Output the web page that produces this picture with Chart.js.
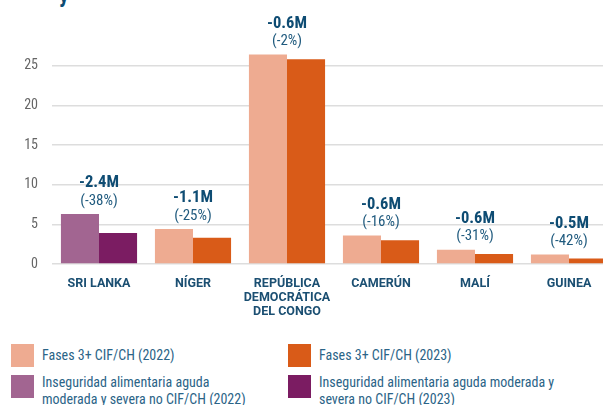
<!DOCTYPE html>
<html>
<head>
<meta charset="utf-8">
<script src="https://cdn.jsdelivr.net/npm/chart.js@4"></script>
<style>
  html, body { margin: 0; padding: 0; background: #fff; width: 603px; height: 405px; overflow: hidden; }
  body { position: relative; font-family: "Roboto Condensed", "Roboto", sans-serif; }
  #wrap { position: absolute; left: 0; top: 0; width: 616px; height: 320px; }
  #title { position: absolute; left: 59px; top: -18px; font: bold 22px "Roboto Condensed", "Roboto", sans-serif; color: #0e4c73; }
  .lg { position: absolute; display: flex; align-items: flex-start; }
  .lg .box { width: 23px; height: 23px; flex: none; }
  .lg .txt { margin-left: 8px; font-size: 14px; line-height: 17px; color: #2b6487; }
</style>
</head>
<body>
<div id="title">y</div>
<div id="wrap"><canvas id="myChart" width="616" height="320"></canvas></div>
<div id="legend"></div>
<script>
// values in millions of people
const countries = ['SRI LANKA', 'NÍGER', ['REPÚBLICA', 'DEMOCRÁTICA', 'DEL CONGO'], 'CAMERÚN', 'MALÍ', 'GUINEA'];
const values2022 = [6.3, 4.4, 26.4, 3.6, 1.8, 1.2];
const values2023 = [3.9, 3.3, 25.8, 3.0, 1.25, 0.7];
const changeLabels = ['-2.4M', '-1.1M', '-0.6M', '-0.6M', '-0.6M', '-0.5M'];
const pctLabels = ['(-38%)', '(-25%)', '(-2%)', '(-16%)', '(-31%)', '(-42%)'];
// true where the figure is "inseguridad alimentaria ... no CIF/CH"
const nonCIF = [true, false, false, false, false, false];
const legendLabels = [
    'Fases 3+ CIF/CH (2022)',
    'Fases 3+ CIF/CH (2023)',
    'Inseguridad alimentaria aguda moderada y severa no CIF/CH (2022)',
    'Inseguridad alimentaria aguda moderada y severa no CIF/CH (2023)'
];
const yTicks = [0, 5, 10, 15, 20, 25];

const colors = {
    cif2022: '#eeab91',
    cif2023: '#d95b18',
    non2022: '#a26591',
    non2023: '#7b1c62'
};
const condensed = '"Roboto Condensed", "Roboto", sans-serif';

const annotations = {
    id: 'annotations',
    afterDatasetsDraw(chart) {
        const c = chart.ctx;
        const y = chart.scales.y;
        const m0 = chart.getDatasetMeta(0);
        const m1 = chart.getDatasetMeta(1);
        c.save();
        c.textAlign = 'center';
        c.textBaseline = 'middle';
        changeLabels.forEach((lab, i) => {
            const x = (m0.data[i].x + m1.data[i].x) / 2;
            const top = y.getPixelForValue(Math.max(values2022[i], values2023[i]));
            c.fillStyle = '#0e4c73';
            c.font = 'bold 16.5px ' + condensed;
            c.fillText(lab, x, top - 31);
            c.fillStyle = '#1f5a7e';
            c.font = '15px ' + condensed;
            c.fillText(pctLabels[i], x, top - 13);
        });
        c.restore();
    }
};

const ctx = document.getElementById('myChart').getContext('2d');
const chart = new Chart(ctx, {
    type: 'bar',
    data: {
        labels: countries,
        datasets: [{
            label: '2022',
            data: values2022,
            backgroundColor: nonCIF.map(n => n ? colors.non2022 : colors.cif2022)
        }, {
            label: '2023',
            data: values2023,
            backgroundColor: nonCIF.map(n => n ? colors.non2023 : colors.cif2023)
        }]
    },
    options: {
        responsive: false,
        animation: false,
        layout: { padding: { top: 30, right: 0, left: 0, bottom: 0 } },
        categoryPercentage: 0.81,
        barPercentage: 1.0,
        plugins: {
            legend: { display: false },
            tooltip: { enabled: false }
        },
        scales: {
            x: {
                grid: { display: false },
                border: { display: false },
                ticks: {
                    color: '#1b4f72',
                    font: { family: 'Roboto, sans-serif', size: 12.5, weight: 'bold', lineHeight: '14px' },
                    padding: 5,
                    maxRotation: 0,
                    autoSkip: false
                },
                afterFit(scale) { scale.height = 56; }
            },
            y: {
                min: 0,
                max: 29.5,
                border: { display: false },
                grid: { color: '#dddddd', lineWidth: 1.5, drawTicks: false },
                ticks: {
                    color: '#666666',
                    font: { family: condensed, size: 14 },
                    padding: 14
                },
                afterBuildTicks(scale) { scale.ticks = yTicks.map(v => ({ value: v })); },
                afterFit(scale) { scale.width = 52; }
            }
        }
    },
    plugins: [annotations]
});

// legend in two columns, text wraps like the original
const legendPos = [
    { x: 11, y: 344, color: colors.cif2022, w: 205, dy: 3 },
    { x: 288, y: 344, color: colors.cif2023, w: 245, dy: 3 },
    { x: 11, y: 375, color: colors.non2022, w: 205, dy: -1 },
    { x: 288, y: 375, color: colors.non2023, w: 245, dy: -1 }
];
const legendEl = document.getElementById('legend');
legendLabels.forEach((txt, i) => {
    const p = legendPos[i];
    const item = document.createElement('div');
    item.className = 'lg';
    item.style.left = p.x + 'px';
    item.style.top = p.y + 'px';
    item.innerHTML = '<div class="box" style="background:' + p.color + '"></div>' +
        '<div class="txt" style="width:' + p.w + 'px;margin-top:' + p.dy + 'px">' + txt + '</div>';
    legendEl.appendChild(item);
});
</script>
</body>
</html>
